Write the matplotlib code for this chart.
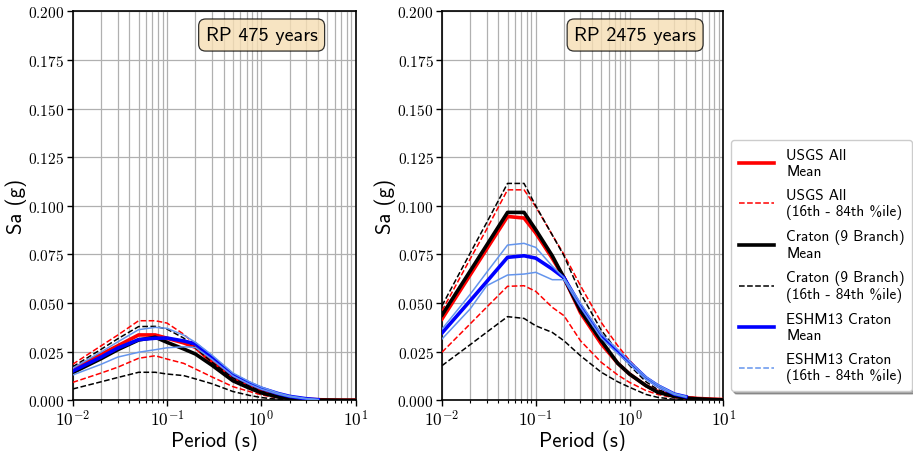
import matplotlib
matplotlib.use("Agg")
import matplotlib.pyplot as plt
from matplotlib.lines import Line2D
from matplotlib.ticker import FuncFormatter, LogLocator, MultipleLocator
import math

plt.rcParams['mathtext.fontset'] = 'cm'
SANS = ['cmss10', 'DejaVu Sans']

# ---------------- data ----------------
periods = [0.01, 0.02, 0.03, 0.05, 0.075, 0.1, 0.15, 0.2, 0.3, 0.5, 0.75,
           1.0, 1.5, 2.0, 3.0, 4.0, 5.0, 7.5, 10.0]
periods_eshm = periods[:16]

panel_titles = ["RP 475 years", "RP 2475 years"]

# RP 475 years
usgs_mean_475 = [0.0160, 0.0236, 0.0280, 0.0336, 0.0336, 0.0319, 0.0295, 0.0272, 0.0195, 0.0112, 0.0074, 0.0049, 0.0024, 0.0013, 0.0005, 0.0003, 0.0002, 0.0001, 0.0001]
usgs_lo_475 = [0.0092, 0.0140, 0.0170, 0.0216, 0.0229, 0.0212, 0.0190, 0.0161, 0.0120, 0.0070, 0.0045, 0.0028, 0.0012, 0.0006, 0.0002, 0.0001, 0.0001, 0.0000, 0.0000]
usgs_hi_475 = [0.0185, 0.0280, 0.0335, 0.0409, 0.0409, 0.0397, 0.0340, 0.0284, 0.0210, 0.0125, 0.0082, 0.0056, 0.0029, 0.0016, 0.0007, 0.0004, 0.0003, 0.0001, 0.0001]
craton_mean_475 = [0.0142, 0.0214, 0.0260, 0.0310, 0.0324, 0.0298, 0.0264, 0.0238, 0.0180, 0.0100, 0.0062, 0.0038, 0.0017, 0.0008, 0.0003, 0.0001, 0.0001, 0.0000, 0.0000]
craton_lo_475 = [0.0058, 0.0095, 0.0117, 0.0144, 0.0144, 0.0135, 0.0127, 0.0110, 0.0085, 0.0045, 0.0025, 0.0014, 0.0005, 0.0002, 0.0001, 0.0000, 0.0000, 0.0000, 0.0000]
craton_hi_475 = [0.0172, 0.0262, 0.0316, 0.0379, 0.0380, 0.0366, 0.0320, 0.0270, 0.0195, 0.0115, 0.0072, 0.0046, 0.0022, 0.0011, 0.0004, 0.0002, 0.0001, 0.0000, 0.0000]
eshm_mean_475 = [0.0150, 0.0222, 0.0268, 0.0312, 0.0319, 0.0320, 0.0305, 0.0290, 0.0220, 0.0130, 0.0088, 0.0062, 0.0035, 0.0020, 0.0008, 0.0003]
eshm_lo_475 = [0.0130, 0.0185, 0.0222, 0.0247, 0.0260, 0.0270, 0.0275, 0.0272, 0.0210, 0.0125, 0.0082, 0.0057, 0.0032, 0.0018, 0.0007, 0.0003]
eshm_hi_475 = [0.0165, 0.0248, 0.0300, 0.0363, 0.0375, 0.0370, 0.0335, 0.0298, 0.0232, 0.0140, 0.0095, 0.0068, 0.0038, 0.0022, 0.0009, 0.0004]

# RP 2475 years
usgs_mean_2475 = [0.0418, 0.0645, 0.0778, 0.0945, 0.0937, 0.0860, 0.0730, 0.0630, 0.0450, 0.0290, 0.0190, 0.0135, 0.0075, 0.0045, 0.0022, 0.0014, 0.0010, 0.0006, 0.0004]
usgs_lo_2475 = [0.0247, 0.0393, 0.0479, 0.0586, 0.0589, 0.0560, 0.0478, 0.0435, 0.0306, 0.0195, 0.0130, 0.0092, 0.0050, 0.0030, 0.0013, 0.0008, 0.0005, 0.0003, 0.0002]
usgs_hi_2475 = [0.0460, 0.0727, 0.0880, 0.1082, 0.1082, 0.0995, 0.0850, 0.0750, 0.0589, 0.0400, 0.0280, 0.0205, 0.0115, 0.0070, 0.0033, 0.0020, 0.0014, 0.0008, 0.0005]
craton_mean_2475 = [0.0438, 0.0665, 0.0798, 0.0966, 0.0966, 0.0877, 0.0743, 0.0630, 0.0460, 0.0306, 0.0190, 0.0135, 0.0075, 0.0041, 0.0020, 0.0012, 0.0008, 0.0004, 0.0002]
craton_lo_2475 = [0.0178, 0.0286, 0.0350, 0.0430, 0.0421, 0.0383, 0.0349, 0.0306, 0.0229, 0.0144, 0.0095, 0.0067, 0.0030, 0.0015, 0.0005, 0.0002, 0.0001, 0.0000, 0.0000]
craton_hi_2475 = [0.0486, 0.0757, 0.0914, 0.1115, 0.1115, 0.1000, 0.0850, 0.0743, 0.0550, 0.0360, 0.0250, 0.0180, 0.0095, 0.0055, 0.0025, 0.0014, 0.0009, 0.0005, 0.0003]
eshm_mean_2475 = [0.0346, 0.0512, 0.0610, 0.0735, 0.0743, 0.0731, 0.0675, 0.0630, 0.0486, 0.0332, 0.0250, 0.0195, 0.0115, 0.0075, 0.0032, 0.0018]
eshm_lo_2475 = [0.0315, 0.0470, 0.0589, 0.0644, 0.0649, 0.0658, 0.0620, 0.0620, 0.0480, 0.0320, 0.0240, 0.0185, 0.0108, 0.0070, 0.0030, 0.0016]
eshm_hi_2475 = [0.0366, 0.0545, 0.0658, 0.0798, 0.0807, 0.0786, 0.0690, 0.0630, 0.0500, 0.0340, 0.0260, 0.0200, 0.0120, 0.0080, 0.0035, 0.0020]

legend_labels = ["USGS All\nMean", "USGS All\n(16th - 84th %ile)",
                 "Craton (9 Branch)\nMean", "Craton (9 Branch)\n(16th - 84th %ile)",
                 "ESHM13 Craton\nMean", "ESHM13 Craton\n(16th - 84th %ile)"]

panels = [
    (usgs_mean_475, usgs_lo_475, usgs_hi_475, craton_mean_475, craton_lo_475, craton_hi_475,
     eshm_mean_475, eshm_lo_475, eshm_hi_475),
    (usgs_mean_2475, usgs_lo_2475, usgs_hi_2475, craton_mean_2475, craton_lo_2475, craton_hi_2475,
     eshm_mean_2475, eshm_lo_2475, eshm_hi_2475),
]

RED, BLACK, BLUE, LBLUE = '#ff0000', '#000000', '#0000ff', '#6495ed'

fig = plt.figure(figsize=(9.13, 4.52), dpi=100)
axes = [fig.add_axes([0.0796, 0.1122, 0.3100, 0.8606]),
        fig.add_axes([0.4841, 0.1122, 0.3081, 0.8606])]

yfmt = FuncFormatter(lambda v, p: r'$\mathrm{%.3f}$' % v)
xfmt = FuncFormatter(lambda v, p: r'$\mathrm{10^{%d}}$' % round(math.log10(v)))

for ax, data, title in zip(axes, panels, panel_titles):
    um, ul, uh, cm_, cl, ch, em, el, eh = data
    ax.plot(periods, um, color=RED, lw=2.6, zorder=3)
    ax.plot(periods, ul, color=RED, lw=1.1, ls='--', zorder=3)
    ax.plot(periods, uh, color=RED, lw=1.1, ls='--', zorder=3)
    ax.plot(periods, cm_, color=BLACK, lw=2.6, zorder=3)
    ax.plot(periods, cl, color=BLACK, lw=1.1, ls='--', zorder=3)
    ax.plot(periods, ch, color=BLACK, lw=1.1, ls='--', zorder=3)
    ax.plot(periods_eshm, em, color=BLUE, lw=2.6, zorder=3)
    ax.plot(periods_eshm, el, color=LBLUE, lw=1.1, zorder=3)
    ax.plot(periods_eshm, eh, color=LBLUE, lw=1.1, zorder=3)

    ax.set_xscale('log')
    ax.set_xlim(0.01, 10)
    ax.set_ylim(0, 0.2)
    ax.yaxis.set_major_locator(MultipleLocator(0.025))
    ax.yaxis.set_major_formatter(yfmt)
    ax.xaxis.set_major_locator(LogLocator(base=10, numticks=10))
    ax.xaxis.set_major_formatter(xfmt)
    ax.xaxis.set_minor_locator(LogLocator(base=10, subs=range(2, 10), numticks=10))
    ax.grid(True, which='major', color='#b0b0b0', lw=0.9, zorder=0)
    ax.grid(True, which='minor', axis='x', color='#b0b0b0', lw=0.9, zorder=0)
    ax.set_axisbelow(True)
    ax.tick_params(axis='x', which='major', labelsize=12.5, length=4, width=1, pad=2)
    ax.tick_params(axis='x', which='minor', length=2.5, width=0.8)
    ax.tick_params(axis='y', labelsize=11, length=4, width=1, pad=2)
    for s in ax.spines.values():
        s.set_linewidth(1.2)
    ax.set_xlabel('Period (s)', family=SANS, fontsize=15, labelpad=0)
    ax.set_ylabel('Sa (g)', family=SANS, fontsize=15)
    ax.yaxis.set_label_coords(-0.163, 0.5)
    ax.text(0.47, 0.939, title, transform=ax.transAxes, ha='left', va='center',
            family=SANS, fontsize=14.5, zorder=5,
            bbox=dict(boxstyle='round,pad=0.35', facecolor='wheat', alpha=0.8,
                      edgecolor='black', lw=0.9))

handles = [
    Line2D([], [], color=RED, lw=2.6),
    Line2D([], [], color=RED, lw=1.1, ls='--'),
    Line2D([], [], color=BLACK, lw=2.6),
    Line2D([], [], color=BLACK, lw=1.1, ls='--'),
    Line2D([], [], color=BLUE, lw=2.6),
    Line2D([], [], color=LBLUE, lw=1.1, ls='--'),
]
leg = fig.legend(handles, legend_labels, loc='center left',
                 bbox_to_anchor=(0.8007, 0.4104), prop={'family': SANS, 'size': 11},
                 handlelength=2.3, labelspacing=0.65, shadow=True, fancybox=True,
                 framealpha=1.0, borderpad=0.5, borderaxespad=0)

fig.savefig('out.png', dpi=100)
